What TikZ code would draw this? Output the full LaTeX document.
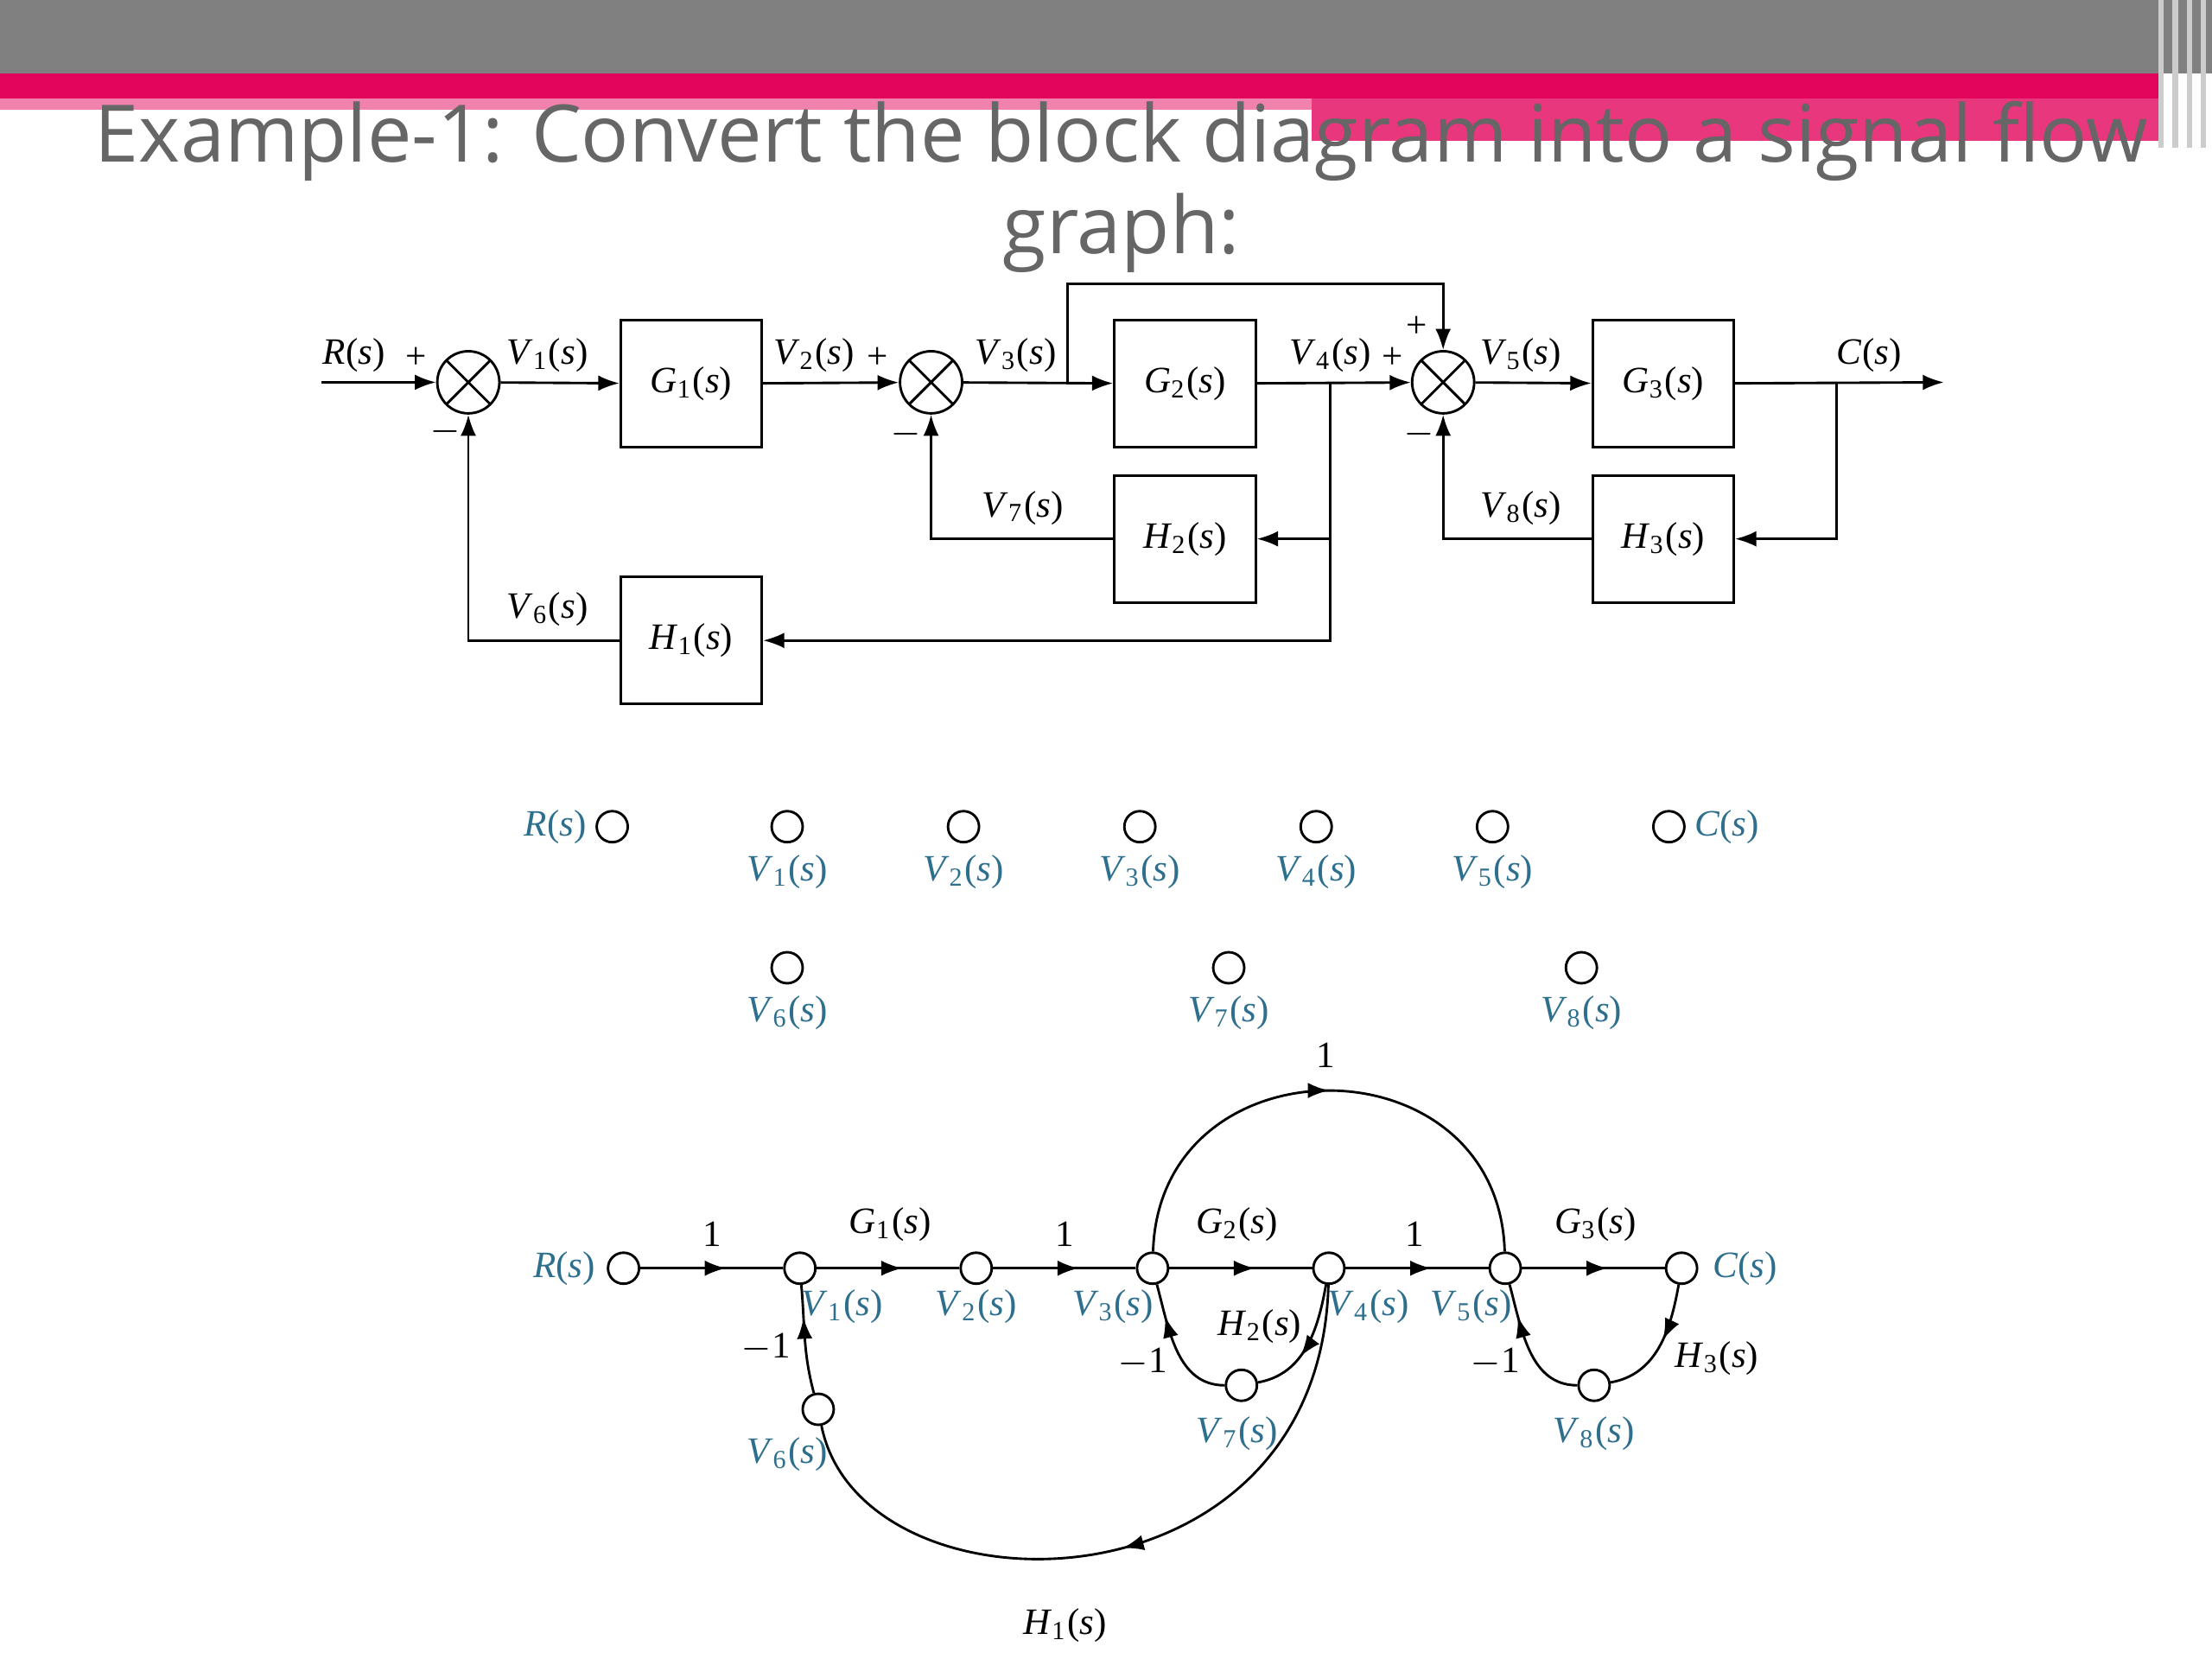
\documentclass[tikz,border=0pt]{standalone}
\usepackage{fontspec}
\setmainfont{Liberation Serif}
\newfontfamily\titlefont{Open Sans}
\usetikzlibrary{arrows.meta,decorations.markings}
\newcommand\sg[2]{\textit{#1}\textsubscript{#2}(\textit{s})}
\definecolor{teal2}{HTML}{2E6F8E}
\definecolor{pinkbar}{HTML}{E2055C}
\begin{document}
\begin{tikzpicture}[x=0.01cm,y=-0.01cm,line width=0.5pt,
  >={Latex[length=1.5mm,width=1.1mm]},
  blk/.style={draw,minimum width=1cm,minimum height=0.9cm,font=\fontsize{7.5}{9}\selectfont},
  sum/.style={draw,circle,minimum size=0.44cm,inner sep=0pt,path picture={\draw (path picture bounding box.north west)--(path picture bounding box.south east) (path picture bounding box.north east)--(path picture bounding box.south west);}},
  lb/.style={font=\fontsize{7.5}{9}\selectfont,inner sep=1pt},
  tl/.style={font=\fontsize{7.5}{9}\selectfont,text=teal2,inner sep=1pt},
  nd/.style={draw,circle,fill=white,minimum size=0.22cm,inner sep=0pt},
  mid/.style={postaction={decorate},decoration={markings,mark=at position #1 with {\arrow{Latex[length=1.5mm,width=1.1mm]}}}}]
\useasboundingbox (0,0) rectangle (1568,1176);
% header
\fill[gray!75!black!80] (0,0) rectangle (1568,52);
\fill[pinkbar] (0,52) rectangle (1530,70);
\fill[pinkbar!50] (0,70) rectangle (930,78);
\fill[pinkbar!80] (930,70) rectangle (1530,100);
\foreach \x in {1530,1540,1550,1560}{\fill[gray!40] (\x,0) rectangle (\x+4,105);}
\node[font=\titlefont\fontsize{16}{19}\selectfont,text=gray!80!black] (t1) at (795,100) {Example-1: Convert the block diagram into a signal flow};
\node[font=\titlefont\fontsize{16}{19}\selectfont,text=gray!80!black] (t2) at (795,165) {graph:};
% block diagram
\coordinate (in) at (228,271);
\node[sum] (s1) at (332,271) {};
\node[blk] (g1) at (490,272) {\sg{G}{1}};
\node[sum] (s2) at (660,271) {};
\node[blk] (g2) at (840,272) {\sg{G}{2}};
\node[sum] (s3) at (1023,271) {};
\node[blk] (g3) at (1179,272) {\sg{G}{3}};
\node[blk] (h2) at (840,382) {\sg{H}{2}};
\node[blk] (h3) at (1179,382) {\sg{H}{3}};
\node[blk] (h1) at (490,454) {\sg{H}{1}};
\coordinate (out) at (1378,271);
\coordinate (b3) at (757,271);
\coordinate (b4) at (943,271);
\coordinate (bc) at (1302,271);
\draw[->] (in) -- (s1);
\draw[->] (s1) -- (g1);
\draw[->] (g1) -- (s2);
\draw[->] (s2) -- (g2);
\draw[->] (b3) |- (1023,201) -- (s3);
\draw[->] (g2) -- (s3);
\draw[->] (s3) -- (g3);
\draw[->] (g3) -- (out);
\draw[->] (bc) |- (h3);
\draw[->] (h3) -| (s3);
\draw[->] (b4) |- (h2);
\draw[->] (b4) |- (h1);
\draw[->] (h2) -| (s2);
\draw[->] (h1) -| (s1);
\node[lb] (lr) at (251,252) {\textit{R}(\textit{s})};
\node[lb] (p1) at (295,254) {+};
\node[lb] (m1) at (316,306) {$-$};
\node[lb] (l1) at (388,252) {\sg{V}{1}};
\node[lb] (l2) at (577,252) {\sg{V}{2}};
\node[lb] (p2) at (622,254) {+};
\node[lb] (m2) at (642,308) {$-$};
\node[lb] (l3) at (720,252) {\sg{V}{3}};
\node[lb] (l4) at (943,252) {\sg{V}{4}};
\node[lb] (p3) at (987,254) {+};
\node[lb] (p4) at (1004,232) {+};
\node[lb] (m3) at (1006,308) {$-$};
\node[lb] (l5) at (1078,252) {\sg{V}{5}};
\node[lb] (lc) at (1325,252) {\textit{C}(\textit{s})};
\node[lb] (l7) at (725,360) {\sg{V}{7}};
\node[lb] (l8) at (1078,360) {\sg{V}{8}};
\node[lb] (l6) at (388,432) {\sg{V}{6}};
% node set
\node[nd] (aR) at (434,586) {}; \node[tl,anchor=east] (aRl) at (420,586) {\textit{R}(\textit{s})};
\node[nd] (aC) at (1183,586) {}; \node[tl,anchor=west] (aCl) at (1197,586) {\textit{C}(\textit{s})};
\foreach \n/\x/\y in {1/558/586,2/683/586,3/808/586,4/933/586,5/1058/586,6/558/686,7/871/686,8/1121/686}{
  \node[nd] (a\n) at (\x,\y) {};
  \node[tl] (a\n l) at (\x,\y+32) {\sg{V}{\n}};}
% signal flow graph
\node[nd] (R) at (442,899) {};
\node[nd] (V1) at (567,899) {};
\node[nd] (V2) at (692,899) {};
\node[nd] (V3) at (817,899) {};
\node[nd] (V4) at (942,899) {};
\node[nd] (V5) at (1067,899) {};
\node[nd] (C) at (1192,899) {};
\node[nd] (V7) at (880,982) {};
\node[nd] (V8) at (1130,982) {};
\node[nd] (V6) at (580,999) {};
\draw[mid=0.6] (R) -- (V1);
\draw[mid=0.6] (V1) -- (V2);
\draw[mid=0.6] (V2) -- (V3);
\draw[mid=0.6] (V3) -- (V4);
\draw[mid=0.6] (V4) -- (V5);
\draw[mid=0.6] (V5) -- (C);
\draw[mid=0.5] (V3) .. controls (822,735) and (1062,735) .. (V5);
\draw[mid=0.6] (V4) to[out=-100,in=10] (V7);
\draw[mid=0.75] (V7) to[out=180,in=-75] (V3);
\draw[mid=0.45] (C) to[out=-100,in=10] (V8);
\draw[mid=0.75] (V8) to[out=180,in=-75] (V5);
\draw[mid=0.7] (V6) to[out=105,in=-85] (V1);
\draw[mid=0.5] (V4) .. controls (935,1150) and (610,1150) .. (V6);
\node[tl] (Rl) at (400,899) {\textit{R}(\textit{s})};
\node[tl] (Cl) at (1237,899) {\textit{C}(\textit{s})};
\node[tl] (V1l) at (597,926) {\sg{V}{1}};
\node[tl] (V2l) at (692,926) {\sg{V}{2}};
\node[tl] (V3l) at (789,926) {\sg{V}{3}};
\node[tl] (V4l) at (970,926) {\sg{V}{4}};
\node[tl] (V5l) at (1043,926) {\sg{V}{5}};
\node[tl] (V7l) at (877,1016) {\sg{V}{7}};
\node[tl] (V8l) at (1130,1016) {\sg{V}{8}};
\node[tl] (V6l) at (558,1031) {\sg{V}{6}};
\node[lb] (e1) at (505,875) {1};
\node[lb] (e2) at (631,868) {\sg{G}{1}};
\node[lb] (e3) at (755,875) {1};
\node[lb] (e4) at (877,868) {\sg{G}{2}};
\node[lb] (e5) at (1003,875) {1};
\node[lb] (e6) at (1131,868) {\sg{G}{3}};
\node[lb] (e7) at (940,748) {1};
\node[lb] (e8) at (893,940) {\sg{H}{2}};
\node[lb] (e9) at (810,966) {$-$1};
\node[lb] (e10) at (1060,966) {$-$1};
\node[lb] (e11) at (1217,963) {\sg{H}{3}};
\node[lb] (e12) at (543,955) {$-$1};
\node[lb] (e13) at (755,1152) {\sg{H}{1}};
\end{tikzpicture}
\end{document}
